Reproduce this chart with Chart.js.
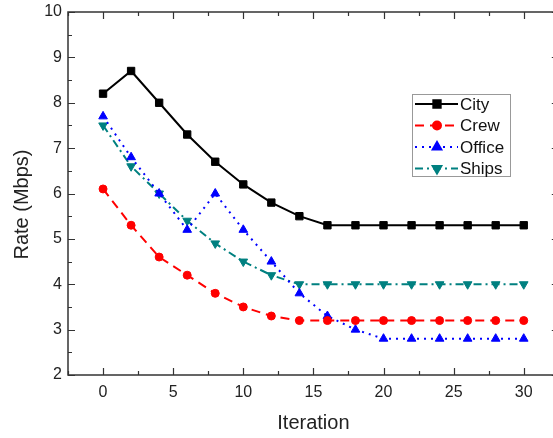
<!DOCTYPE html>
<html>
<head>
<meta charset="utf-8">
<script src="https://cdn.jsdelivr.net/npm/chart.js@4/dist/chart.umd.min.js"></script>
<style>
    html, body { margin: 0; padding: 0; background: #fff; overflow: hidden; }
    #wrap { width: 553px; height: 438px; position: relative; overflow: hidden; }
    #rate-chart { position: absolute; left: 0; top: 0; }
</style>
</head>
<body>
<div id="wrap"><canvas id="rate-chart" width="565" height="438"></canvas></div>
<script>
const iterations = [0, 2, 4, 6, 8, 10, 12, 14, 16, 18, 20, 22, 24, 26, 28, 30];
const city   = [8.2, 8.7, 8.0, 7.3, 6.7, 6.2, 5.8, 5.5, 5.3, 5.3, 5.3, 5.3, 5.3, 5.3, 5.3, 5.3];
const crew   = [6.1, 5.3, 4.6, 4.2, 3.8, 3.5, 3.3, 3.2, 3.2, 3.2, 3.2, 3.2, 3.2, 3.2, 3.2, 3.2];
const office = [7.7, 6.8, 6.0, 5.2, 6.0, 5.2, 4.5, 3.8, 3.3, 3.0, 2.8, 2.8, 2.8, 2.8, 2.8, 2.8];
const ships  = [7.5, 6.6, 6.0, 5.4, 4.9, 4.5, 4.2, 4.0, 4.0, 4.0, 4.0, 4.0, 4.0, 4.0, 4.0, 4.0];
const xTicks = [0, 5, 10, 15, 20, 25, 30];
const yTicks = [2, 3, 4, 5, 6, 7, 8, 9, 10];

const FONT = '"Liberation Sans", Arial, sans-serif';
const toPoints = vals => vals.map((v, i) => ({ x: iterations[i], y: v }));

// box around plot + inward tick marks (major and minor) + y title
const framePlugin = {
    id: 'frame',
    afterDraw(chart) {
        const { ctx, chartArea: a, scales: { x, y } } = chart;
        ctx.save();
        ctx.strokeStyle = '#333';
        ctx.lineWidth = 1.5;
        ctx.strokeRect(a.left, a.top, a.right - a.left, a.bottom - a.top);
        ctx.lineWidth = 1.2;
        ctx.beginPath();
        for (let v = x.min; v <= x.max + 0.01; v += 2.5) {
            const px = Math.round(x.getPixelForValue(v)) + 0.5;
            const len = v % 5 === 0 ? 7 : 4;
            ctx.moveTo(px, a.bottom); ctx.lineTo(px, a.bottom - len);
            ctx.moveTo(px, a.top); ctx.lineTo(px, a.top + len);
        }
        for (let v = y.min; v <= y.max + 0.01; v += 0.5) {
            const py = Math.round(y.getPixelForValue(v)) + 0.5;
            const len = v % 1 === 0 ? 7 : 4;
            ctx.moveTo(a.left, py); ctx.lineTo(a.left + len, py);
            ctx.moveTo(a.right, py); ctx.lineTo(a.right - len, py);
        }
        ctx.stroke();

        // y axis title sits a bit below the plot centre in the original
        ctx.translate(22, (a.top + a.bottom) / 2 + 11);
        ctx.rotate(-Math.PI / 2);
        ctx.fillStyle = '#222';
        ctx.font = '20px ' + FONT;
        ctx.textAlign = 'center';
        ctx.textBaseline = 'middle';
        ctx.fillText('Rate (Mbps)', 0, 0);
        ctx.restore();
    }
};

// legend box drawn inside the plot, line sample + marker + label
const legendBox = {
    id: 'legendBox',
    afterDraw(chart) {
        const ctx = chart.ctx;
        const left = 412, top = 94, w = 98, h = 82;
        ctx.save();
        ctx.fillStyle = '#fff';
        ctx.fillRect(left, top, w, h);
        ctx.strokeStyle = '#999';
        ctx.lineWidth = 1;
        ctx.strokeRect(left + 0.5, top + 0.5, w, h);
        chart.data.datasets.forEach((ds, i) => {
            const cy = top + 10 + i * 21.5;
            ctx.strokeStyle = ds.borderColor;
            ctx.lineWidth = ds.borderWidth;
            ctx.setLineDash(ds.borderDash || []);
            ctx.beginPath();
            ctx.moveTo(left + 3, cy);
            ctx.lineTo(left + 46, cy);
            ctx.stroke();
            ctx.setLineDash([]);
            ctx.fillStyle = ds.pointBackgroundColor;
            ctx.strokeStyle = ds.borderColor;
            Chart.helpers.drawPoint(ctx, {
                pointStyle: ds.pointStyle,
                rotation: ds.pointRotation || 0,
                radius: ds.pointRadius,
                borderWidth: 1
            }, left + 25, cy);
            ctx.fillStyle = '#111';
            ctx.font = '17px ' + FONT;
            ctx.textBaseline = 'middle';
            ctx.fillText(ds.label, left + 48, cy + 1);
        });
        ctx.restore();
    }
};

function makeSeries(label, values, color, dash, style, radius, rotation) {
    return {
        label: label,
        data: toPoints(values),
        borderColor: color,
        backgroundColor: color,
        pointBackgroundColor: color,
        pointBorderColor: color,
        borderWidth: 2,
        borderDash: dash,
        pointStyle: style,
        pointRadius: radius,
        pointRotation: rotation,
        pointBorderWidth: 1,
        tension: 0
    };
}

const ctx = document.getElementById('rate-chart').getContext('2d');
const chart = new Chart(ctx, {
    type: 'line',
    data: {
        datasets: [
            makeSeries('City', city, '#000000', [], 'rect', 5.2, 0),
            makeSeries('Crew', crew, '#ff0000', [9, 6], 'circle', 4, 0),
            makeSeries('Office', office, '#0000ff', [2, 5], 'triangle', 5, 0),
            makeSeries('Ships', ships, '#008080', [8, 4, 2, 4], 'triangle', 5, 180)
        ]
    },
    options: {
        responsive: false,
        animation: false,
        devicePixelRatio: 1,
        layout: { padding: { top: 12, right: 0, left: 0, bottom: 0 } },
        plugins: { legend: { display: false }, tooltip: { enabled: false } },
        scales: {
            x: {
                type: 'linear',
                min: -2.5,
                max: 32.5,
                grid: { display: false, drawTicks: false },
                border: { display: false },
                afterBuildTicks: s => { s.ticks = xTicks.map(v => ({ value: v })); },
                afterFit: s => { s.height = 63; },
                ticks: { font: { family: FONT, size: 16 }, color: '#222', padding: 8 },
                title: { display: true, text: 'Iteration', font: { family: FONT, size: 20 }, color: '#222', padding: { top: 4, bottom: 3 } }
            },
            y: {
                min: 2,
                max: 10,
                grid: { display: false, drawTicks: false },
                border: { display: false },
                afterBuildTicks: s => { s.ticks = yTicks.map(v => ({ value: v })); },
                afterFit: s => { s.width = 68; },
                ticks: { font: { family: FONT, size: 16, lineHeight: 0.75 }, color: '#222', padding: 6 },
                title: { display: false }
            }
        }
    },
    plugins: [framePlugin, legendBox]
});
</script>
</body>
</html>
